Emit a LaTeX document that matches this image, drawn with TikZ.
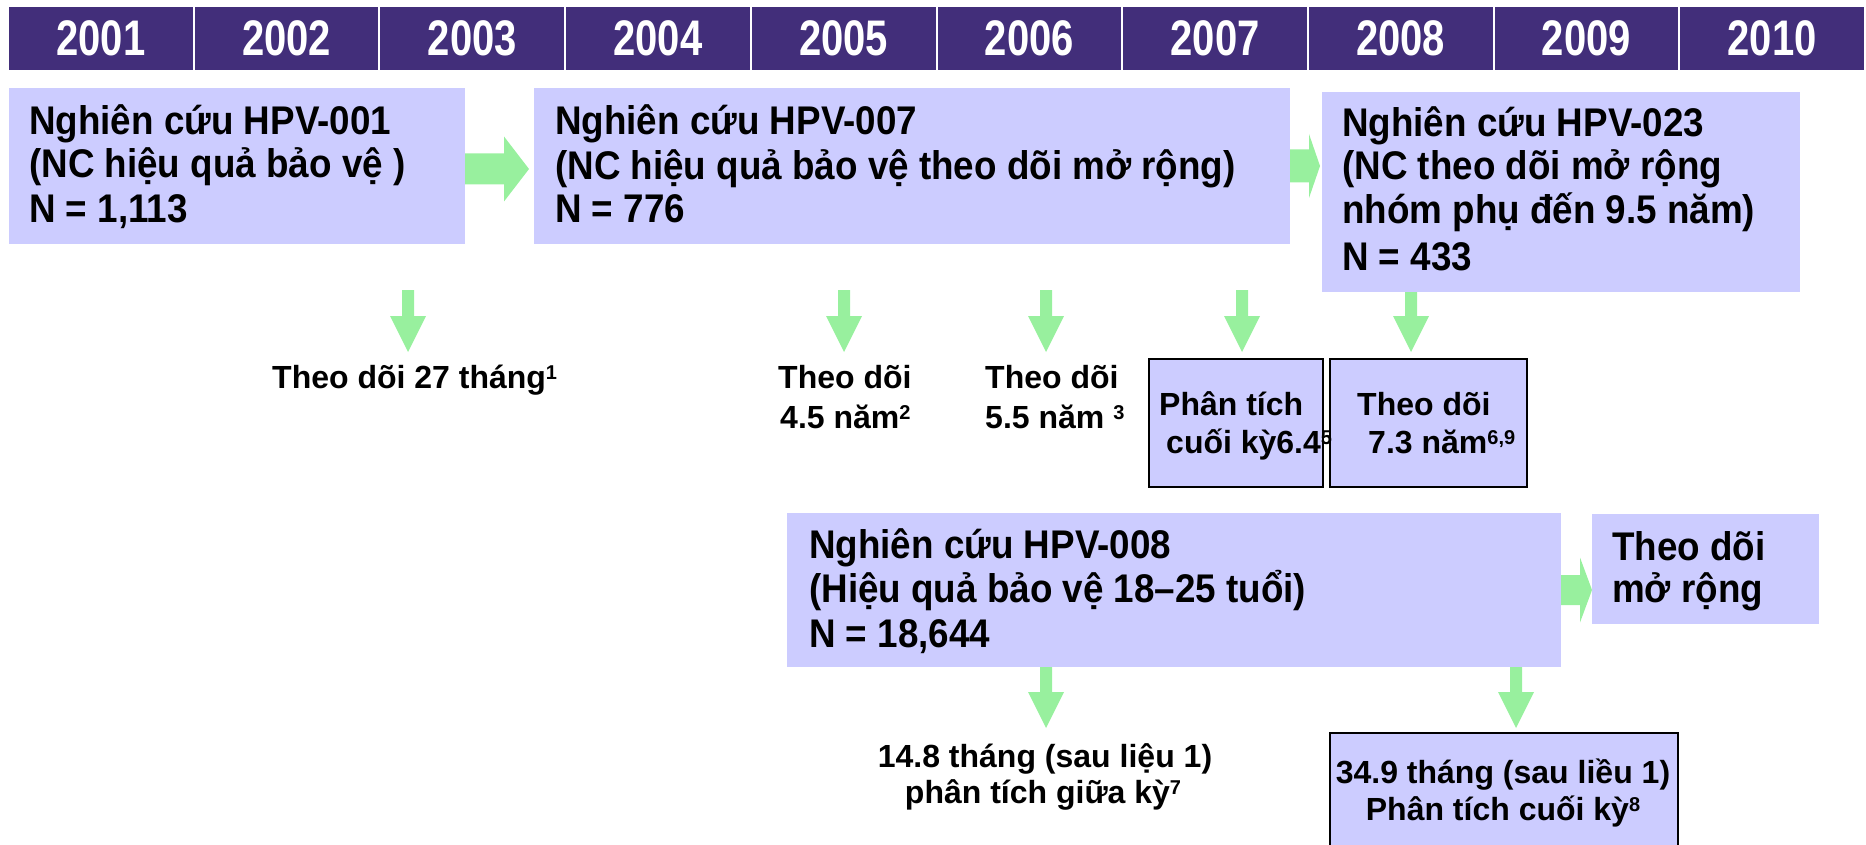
\documentclass[tikz,border=0pt]{standalone}
\usepackage{fontspec}
\setmainfont{Liberation Sans}
\newfontfamily\boxfont{Liberation Sans}[FakeStretch=0.92]
\newfontfamily\yearfont{Liberation Sans}[FakeStretch=0.8]
\usetikzlibrary{calc}
\definecolor{hdr}{RGB}{66,46,122}
\definecolor{lav}{RGB}{204,204,255}
\definecolor{agreen}{RGB}{152,240,158}
\newcommand\supr[1]{\raisebox{9pt}{\fontsize{20}{20}\selectfont #1}}
\tikzset{
  ashaft/.store in=\ashaft, ahead/.store in=\ahead, alen/.store in=\alen,
  ashaft=6pt, ahead=18pt, alen=36pt,
  fatdown/.style={to path={let \p1=(\tikztostart), \p2=(\tikztotarget) in
    (\x1-\ashaft,\y1) -- (\x1-\ashaft,\y2+\alen) -- (\x1-\ahead,\y2+\alen) -- (\x1,\y2)
    -- (\x1+\ahead,\y2+\alen) -- (\x1+\ashaft,\y2+\alen) -- (\x1+\ashaft,\y1) -- cycle}},
  fatright/.style={to path={let \p1=(\tikztostart), \p2=(\tikztotarget) in
    (\x1,\y1+\ashaft) -- (\x2-\alen,\y1+\ashaft) -- (\x2-\alen,\y1+\ahead) -- (\x2,\y1)
    -- (\x2-\alen,\y1-\ahead) -- (\x2-\alen,\y1-\ashaft) -- (\x1,\y1-\ashaft) -- cycle}},
  yearcell/.style={fill=hdr, text=white, minimum width=183.7pt, minimum height=63pt,
    inner sep=0pt, font=\yearfont\bfseries\fontsize{50}{50}\selectfont},
  studybox/.style={fill=lav, draw=none, inner sep=0pt, anchor=north west},
  framedbox/.style={studybox, draw=black, line width=1.5pt},
  maintext/.style={font=\boxfont\bfseries\fontsize{40}{44}\selectfont, inner sep=0pt, anchor=base west},
  labeltext/.style={font=\bfseries\fontsize{32}{36}\selectfont, inner sep=0pt, anchor=base west},
  labelc/.style={labeltext, anchor=base},
}
\begin{document}
\begin{tikzpicture}[x=1pt,y=-1pt]
\useasboundingbox (0,0) rectangle (1866,845);
\clip (0,0) rectangle (1866,845);
% header
\foreach \yr [count=\i from 0] in {2001,2002,2003,2004,2005,2006,2007,2008,2009,2010}
  \node[yearcell] (y\yr) at ({9+\i*185.7+91.85},38.5) {\yr};
% boxes
\node[studybox, minimum width=456pt, minimum height=156pt] (A) at (9,88) {};
\node[studybox, minimum width=756pt, minimum height=156pt] (B) at (534,88) {};
\node[studybox, minimum width=478pt, minimum height=200pt] (C) at (1322,92) {};
\node[framedbox, minimum width=174pt, minimum height=128pt] (D) at (1148,358) {};
\node[framedbox, minimum width=197pt, minimum height=128pt] (E) at (1329,358) {};
\node[studybox, minimum width=774pt, minimum height=154pt] (F) at (787,513) {};
\node[studybox, minimum width=227pt, minimum height=110pt] (G) at (1592,514) {};
\node[framedbox, minimum width=348pt, minimum height=140pt] (H) at (1329,732) {};
% box texts
\node[maintext] (a1) at (29,135) {Nghiên cứu HPV-001};
\node[maintext] (a2) at (29,178) {(NC hiệu quả bảo vệ )};
\node[maintext] (a3) at (29,223) {N = 1,113};
\node[maintext] (b1) at (555,135) {Nghiên cứu HPV-007};
\node[maintext] (b2) at (555,180) {(NC hiệu quả bảo vệ theo dõi mở rộng)};
\node[maintext] (b3) at (555,223) {N = 776};
\node[maintext] (c1) at (1342,137) {Nghiên cứu HPV-023};
\node[maintext] (c2) at (1342,180) {(NC theo dõi mở rộng};
\node[maintext] (c3) at (1342,224) {nhóm phụ đến 9.5 năm)};
\node[maintext] (c4) at (1342,270) {N = 433};
\node[maintext] (f1) at (809,558) {Nghiên cứu HPV-008};
\node[maintext] (f2) at (809,602) {(Hiệu quả bảo vệ 18–25 tuổi)};
\node[maintext] (f3) at (809,647) {N = 18,644};
\node[maintext] (g1) at (1612,560) {Theo dõi};
\node[maintext] (g2) at (1612,602) {mở rộng};
% labels
\node[labeltext] (l1) at (272,388) {Theo dõi 27 tháng\supr{1}};
\node[labeltext] (l2a) at (778,388) {Theo dõi};
\node[labeltext] (l2b) at (780,428) {4.5 năm\supr{2}};
\node[labeltext] (l3a) at (985,388) {Theo dõi};
\node[labeltext] (l3b) at (985,428) {5.5 năm \supr{3}};
\node[labeltext] (d1) at (1159,415) {Phân tích};
\node[labeltext] (d2) at (1166,453) {cuối kỳ6.4\supr{5}};
\node[labeltext] (e1) at (1357,415) {Theo dõi};
\node[labeltext] (e2) at (1368,453) {7.3 năm\supr{6,9}};
\node[labelc] (m1) at (1045,767) {14.8 tháng (sau liệu 1)};
\node[labelc] (m2) at (1043,803) {phân tích giữa kỳ\supr{7}};
\node[labelc] (h1) at (1503,783) {34.9 tháng (sau liều 1)};
\node[labelc] (h2) at (1503,820) {Phân tích cuối kỳ\supr{8}};
% arrow end points
\coordinate (ab0) at (465,169); \coordinate (ab1) at (529,169);
\coordinate (bc0) at (1290,166); \coordinate (bc1) at (1320,166);
\coordinate (fg0) at (1561,590); \coordinate (fg1) at (1592,590);
\coordinate (r1s) at (408,290);  \coordinate (r1e) at (408,352);
\coordinate (r2s) at (844,290);  \coordinate (r2e) at (844,352);
\coordinate (r3s) at (1046,290); \coordinate (r3e) at (1046,352);
\coordinate (r4s) at (1242,290); \coordinate (r4e) at (1242,352);
\coordinate (r5s) at (1411,292); \coordinate (r5e) at (1411,352);
\coordinate (s1s) at (1046,667); \coordinate (s1e) at (1046,728);
\coordinate (s2s) at (1516,667); \coordinate (s2e) at (1516,728);
% arrows
\fill[agreen, ashaft=15.5pt, ahead=32.5pt, alen=25pt] (ab0) to[fatright] (ab1);
\fill[agreen, ashaft=16.5pt, ahead=32pt, alen=11pt] (bc0) to[fatright] (bc1);
\fill[agreen, ashaft=15pt, ahead=32.5pt, alen=12pt] (fg0) to[fatright] (fg1);
\foreach \q in {r1,r2,r3,r4,r5,s1,s2}
  \fill[agreen] (\q s) to[fatdown] (\q e);
\end{tikzpicture}
\end{document}
